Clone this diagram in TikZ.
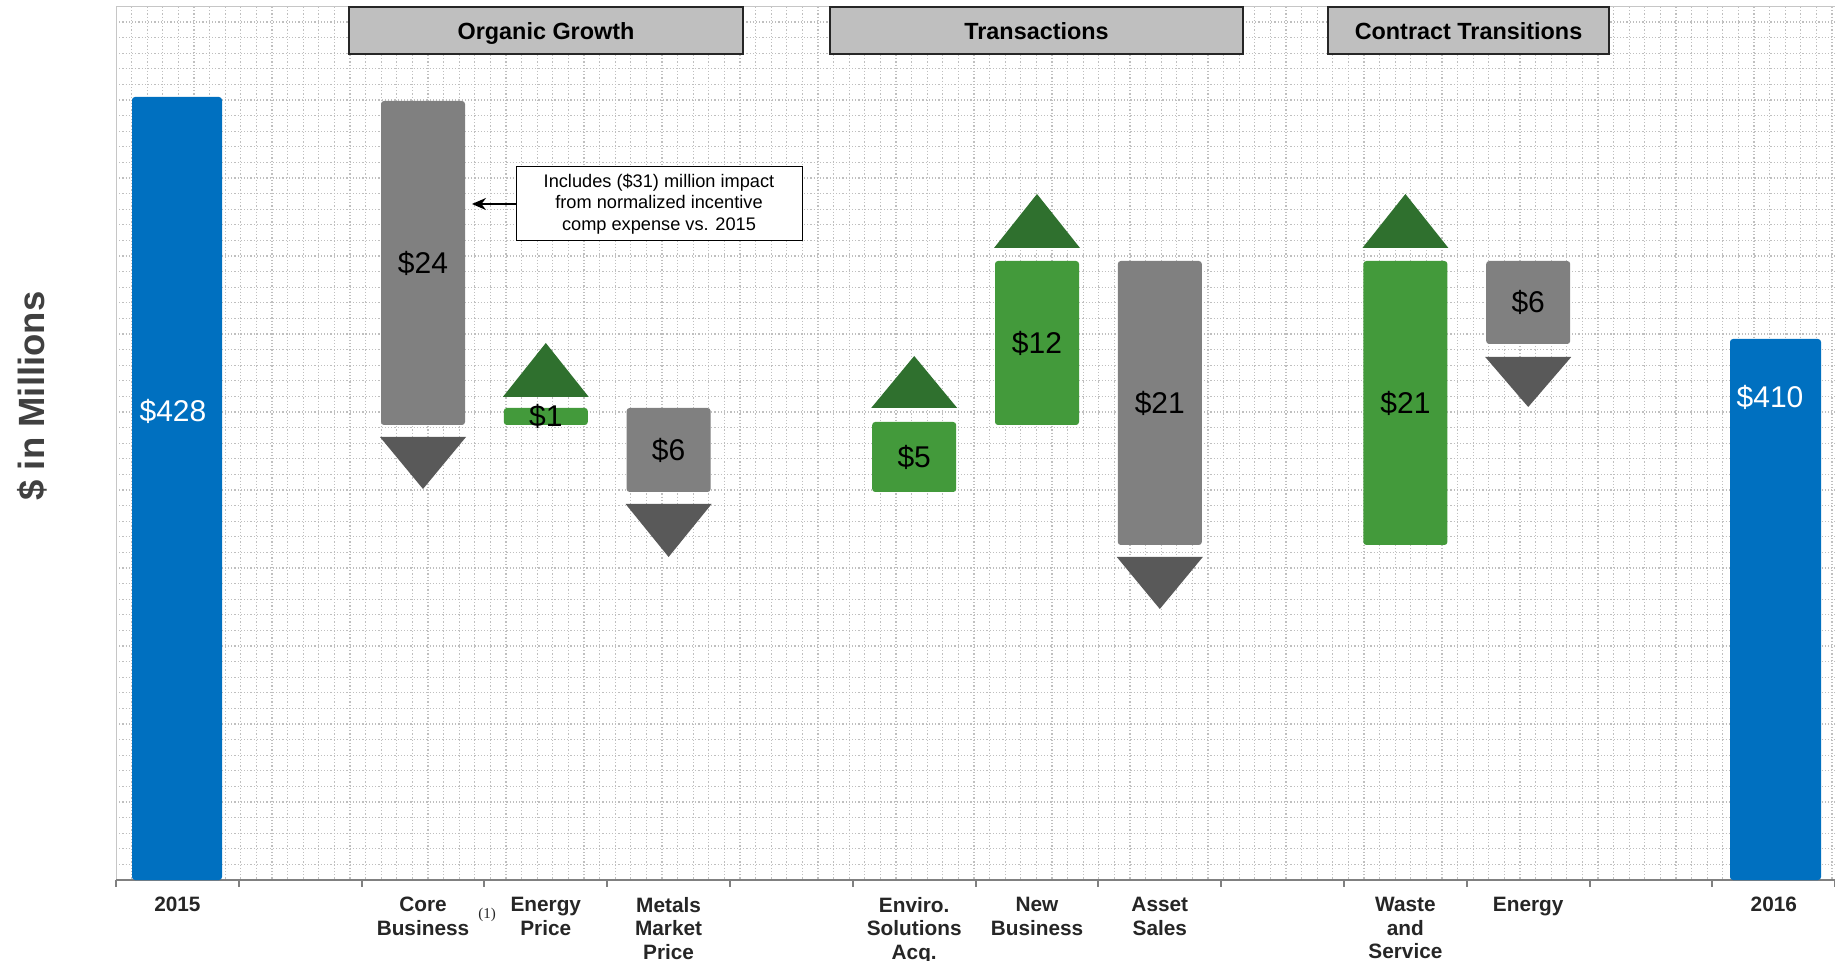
\documentclass[tikz,border=0pt]{standalone}
\usepackage{fontspec}
\setmainfont{Liberation Sans}
\newfontfamily\notefont{Liberation Serif}
\usepackage{xcolor}
\usetikzlibrary{positioning, arrows.meta, calc}

\definecolor{barBlue}{HTML}{0070C0}
\definecolor{barGray}{HTML}{808080}
\definecolor{triGray}{HTML}{595959}
\definecolor{barGreen}{HTML}{439A3B}
\definecolor{triGreen}{HTML}{2F702E}
\definecolor{headGray}{HTML}{BFBFBF}
\definecolor{labelGray}{HTML}{262626}
\definecolor{axisText}{HTML}{404040}

\begin{document}
\begin{tikzpicture}[
        x=0.5pt, y=-0.5pt, >=Stealth,
        gridline/.style={densely dotted, gray!50, line width=0.6pt},
        header/.style={draw=black!85, line width=1.1pt, fill=headGray, minimum height=23.5pt,
            inner sep=0pt, text height=9.5pt, text depth=0pt,
            font=\bfseries\fontsize{11.7}{14}\selectfont},
        catlabel/.style={anchor=north, align=center, inner sep=0pt, text=labelGray,
            font=\bfseries\fontsize{10.4}{11.7}\selectfont},
        value/.style={inner sep=0pt, font=\fontsize{15}{18}\selectfont},
        note/.style={draw, line width=0.5pt, fill=white, align=center, minimum width=143pt,
            minimum height=37pt, inner sep=0pt, font=\fontsize{9.1}{10.8}\selectfont}
    ]
        \def\xo{116}
        \def\catw{122.8}
        \useasboundingbox (0,0) rectangle (1835,961);

        % background grid
        \foreach \k in {1,...,110}
            \draw[gridline] ({\xo+\k*15.6},7) -- (\xo+\k*15.6,880);
        \foreach \k in {1,...,55}
            \draw[gridline] (\xo,{880-\k*15.6}) -- (1835,{880-\k*15.6});
        \draw[gray!45, line width=0.5pt] (\xo,880) -- (\xo,7) -- (1835,7);

        % axis
        \draw[barGray, line width=1pt] (\xo,880) -- (1835,880);
        \foreach \i in {0,...,14}
            \draw[barGray, line width=1pt] ({\xo+\i*\catw},880) -- ++(0,7);

        % totals
        \fill[barBlue, rounded corners=1.5] (132,97) rectangle (222,880);
        \fill[barBlue, rounded corners=1.5] (1730,339) rectangle (1821,880);
        \node[value, text=white] (v2015) at (173,411) {\$428};
        \node[value, text=white] (v2016) at (1770,397) {\$410};

        % changes
        \foreach \nm/\i/\ytop/\ybot/\clr/\val in {core/2/101/425/barGray/24,
                enprice/3/408/425/barGreen/1, metals/4/408/492/barGray/6,
                enviro/6/422/492/barGreen/5, newbiz/7/261/425/barGreen/12,
                assets/8/261/545/barGray/21, waste/10/261/545/barGreen/21,
                energy/11/261/344/barGray/6}
        {
            \fill[fill=\clr, rounded corners=1.5] ({\xo+(\i+0.5)*\catw-42},\ytop)
                rectangle ({\xo+(\i+0.5)*\catw+42},\ybot);
            \node[value] (v\nm) at ({\xo+(\i+0.5)*\catw},{(\ytop+\ybot)/2}) {\$\val};
        }
        \foreach \i/\ybase/\yapex/\clr in {2/437/489/triGray, 3/397/343/triGreen,
                4/504/557/triGray, 6/408/356/triGreen, 7/248/194/triGreen,
                8/557/609/triGray, 10/248/194/triGreen, 11/357/407/triGray}
            \fill[fill=\clr] ({\xo+(\i+0.5)*\catw-43},\ybase) -- ({\xo+(\i+0.5)*\catw+43},\ybase)
                -- ({\xo+(\i+0.5)*\catw},\yapex) -- cycle;

        % group headers
        \node[header, minimum width=197pt] (hOrganic) at (546,30.5) {Organic Growth};
        \node[header, minimum width=206.5pt] (hTrans) at (1036.5,30.5) {Transactions};
        \node[header, minimum width=140.5pt] (hContract) at (1468.5,30.5) {Contract Transitions};

        % note on core business
        \node[note] (note) at (659,204) {Includes (\$31) million impact\\from normalized incentive\\comp expense vs. 2015};
        \coordinate (coretip) at (472,204);
        \draw[-{Stealth[length=7pt, width=6pt]}, line width=0.8pt] (note.west) -- (coretip);

        % category labels
        \foreach \nm/\i/\txt in {c2015/0/2015, core/2/Core\\Business, enprice/3/Energy\\Price,
                metals/4/Metals\\Market\\Price, enviro/6/Enviro.\\Solutions\\Acq.,
                newbiz/7/New\\Business, assets/8/Asset\\Sales, waste/10/Waste\\and\\Service,
                energy/11/Energy, c2016/13/2016}
            \node[catlabel] (l\nm) at ({\xo+(\i+0.5)*\catw},897) {\txt};
        \node[font=\notefont\fontsize{7.5}{8}\selectfont, text=labelGray, inner sep=0pt] (fnote) at (487,915) {(1)};

        \node[rotate=90, text=axisText, font=\bfseries\fontsize{18.25}{20}\selectfont] (ylabel) at (32,396) {\$ in Millions};
    \end{tikzpicture}
\end{document}
